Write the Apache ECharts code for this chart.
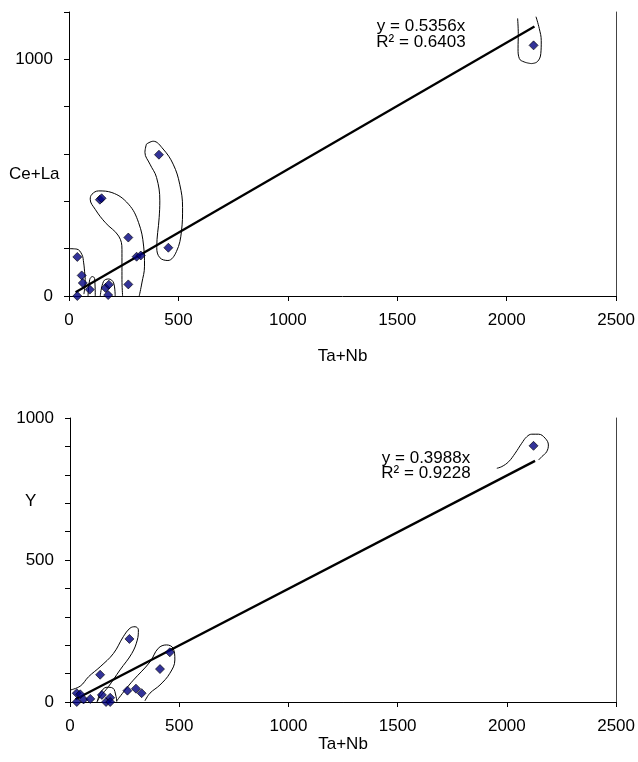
<!DOCTYPE html>
<html>
<head>
<meta charset="utf-8">
<script src="https://cdn.jsdelivr.net/npm/echarts@6/dist/echarts.min.js"></script>
<style>
  html, body { margin: 0; padding: 0; background: #fff; }
  #chart { width: 638px; height: 762px; }
</style>
</head>
<body>
<div id="chart"></div>
<script>
// upper panel: Ce+La against Ta+Nb
const topTaNb = [38, 58, 63, 95, 38, 141, 149, 271, 309, 328, 271, 167, 182, 179, 411, 454, 2123];
const topCeLa = [165, 87, 55, 27, 0, 407, 413, 247, 166, 171, 49, 34, 48, 4, 597, 204, 1059];
const topTrend = [[30, 16], [2127, 1139]];
const topEquation = ["y = 0.5356x", "R\u00b2 = 0.6403"];

// lower panel: Y against Ta+Nb
const bottomTaNb = [31, 47, 31, 62, 93, 138, 146, 272, 165, 184, 184, 263, 302, 328, 412, 457, 2122];
const bottomY = [31, 27, 0, 9, 11, 96, 25, 222, 0, 15, 0, 40, 47, 31, 116, 175, 902];
const bottomTrend = [[25, 10], [2129, 849]];
const bottomEquation = ["y = 0.3988x", "R\u00b2 = 0.9228"];

const xTicks = [0, 500, 1000, 1500, 2000, 2500];
const topYLabels = [0, 1000];
const bottomYLabels = [0, 500, 1000];

// hand drawn group outlines (data units)
const topOutlines = [
  [[0, 200], [36, 198], [59, 175], [67, 140], [71, 105], [74, 70], [72, 35], [68, 8]],
  [[87, 0], [95, 70], [107, 82], [117, 74], [120, 0]],
  [[143, 0], [158, 62], [181, 72], [204, 55], [211, 0]],
  [[245, 0], [242, 69], [242, 197], [227, 253], [166, 310], [120, 366], [97, 409], [105, 430],
   [135, 444], [196, 437], [272, 388], [318, 310], [341, 211], [345, 126], [333, 55], [321, 0]],
  [[354, 642], [385, 654], [430, 621], [476, 557], [506, 472], [519, 374], [514, 274], [491, 188],
   [452, 150], [415, 162], [401, 205], [412, 331], [415, 402], [400, 501], [370, 557], [347, 607], [354, 642]],
  [[2050, 1173], [2053, 1109], [2052, 1045], [2058, 1003], [2080, 989], [2112, 982]],
  [[2112, 982], [2140, 990], [2156, 1024], [2158, 1079], [2149, 1130], [2134, 1180]],
];
const bottomOutlines = [
  [[0, 42], [47, 56], [85, 89], [138, 124], [199, 171], [244, 230], [275, 260], [298, 265],
   [313, 254], [308, 218], [283, 171], [229, 113], [176, 54], [138, 19], [123, 1]],
  [[126, 1], [138, 31], [169, 52], [196, 49], [211, 19], [214, 1]],
  [[214, 4], [252, 42], [290, 77], [366, 141], [404, 189], [442, 201], [472, 189], [480, 148],
   [457, 101], [412, 60], [366, 31], [343, 4]],
  [[1954, 823], [1977, 829], [2008, 846], [2038, 876], [2068, 911], [2091, 934], [2114, 943],
   [2145, 943], [2175, 929], [2190, 905], [2182, 881], [2160, 864], [2145, 852]],
];

const FONT = "Liberation Sans, Arial, sans-serif";
const FONT_SIZE = 17;

function pairs(xs, ys) {
  return xs.map((x, i) => [x, ys[i]]);
}

function xAxisFor(gridIndex, nameGap) {
  return {
    gridIndex,
    type: "value",
    min: 0,
    max: 2500,
    interval: 500,
    name: "Ta+Nb",
    nameLocation: "middle",
    nameGap,
    nameTextStyle: { fontFamily: FONT, fontSize: FONT_SIZE, color: "#000" },
    axisLine: { lineStyle: { color: "#000", width: 1 } },
    axisTick: { inside: false, length: 5, lineStyle: { color: "#000" } },
    axisLabel: {
      margin: 16,
      fontFamily: FONT,
      fontSize: FONT_SIZE,
      color: "#000",
      formatter: (v) => (xTicks.includes(v) ? String(v) : ""),
    },
    splitLine: { show: false },
  };
}

function yAxisFor(gridIndex, max, interval, labels) {
  return {
    gridIndex,
    type: "value",
    min: 0,
    max,
    interval,
    axisLine: { show: true, onZero: false, lineStyle: { color: "#000", width: 1 } },
    axisTick: { show: true, length: 5, lineStyle: { color: "#000" } },
    axisLabel: {
      margin: 16,
      padding: [9, 0, 0, 0],
      fontFamily: FONT,
      fontSize: FONT_SIZE,
      color: "#000",
      showMinLabel: true,
      showMaxLabel: true,
      formatter: (v) => (labels.includes(v) ? String(v) : ""),
    },
    splitLine: { show: false },
  };
}

function rightAxisFor(gridIndex, max) {
  return {
    gridIndex,
    type: "value",
    position: "right",
    min: 0,
    max,
    axisLine: { show: true, onZero: false, lineStyle: { color: "#444", width: 1 } },
    axisTick: { show: false },
    axisLabel: { show: false },
    splitLine: { show: false },
  };
}

function scatterSeries(xIdx, yIdx, data) {
  return {
    type: "scatter",
    xAxisIndex: xIdx,
    yAxisIndex: yIdx,
    data,
    symbol: "diamond",
    symbolSize: 9,
    itemStyle: { color: "#000080", borderColor: "#000", borderWidth: 0.8 },
    z: 5,
  };
}

function trendSeries(xIdx, yIdx, data) {
  return {
    type: "line",
    xAxisIndex: xIdx,
    yAxisIndex: yIdx,
    data,
    showSymbol: false,
    lineStyle: { color: "#000", width: 2.3 },
    z: 4,
  };
}

function outlineSeries(xIdx, yIdx, data) {
  return {
    type: "line",
    xAxisIndex: xIdx,
    yAxisIndex: yIdx,
    data,
    smooth: 0.4,
    showSymbol: false,
    clip: false,
    lineStyle: { color: "#000", width: 1 },
    z: 3,
  };
}

const chart = echarts.init(document.getElementById("chart"));

const series = [
  scatterSeries(0, 0, pairs(topTaNb, topCeLa)),
  trendSeries(0, 0, topTrend),
  scatterSeries(1, 2, pairs(bottomTaNb, bottomY)),
  trendSeries(1, 2, bottomTrend),
];
topOutlines.forEach((o) => series.push(outlineSeries(0, 0, o)));
bottomOutlines.forEach((o) => series.push(outlineSeries(1, 2, o)));

chart.setOption({
  animation: false,
  backgroundColor: "#fff",
  grid: [
    { left: 69, right: 21, top: 12, height: 284 },
    { left: 70, right: 20, top: 418, height: 284 },
  ],
  xAxis: [xAxisFor(0, 52), xAxisFor(1, 34)],
  yAxis: [
    yAxisFor(0, 1200, 200, topYLabels),
    rightAxisFor(0, 1200),
    yAxisFor(1, 1000, 100, bottomYLabels),
    rightAxisFor(1, 1000),
  ],
  graphic: [
    {
      type: "text",
      left: 9,
      top: 166,
      style: { text: "Ce+La", fontFamily: FONT, fontSize: FONT_SIZE, fill: "#000" },
    },
    {
      type: "text",
      left: 25,
      top: 493,
      style: { text: "Y", fontFamily: FONT, fontSize: FONT_SIZE, fill: "#000" },
    },
    {
      type: "text",
      x: 421,
      y: 18,
      style: {
        text: topEquation.join("\n"),
        fontFamily: FONT,
        fontSize: FONT_SIZE,
        lineHeight: 16,
        fill: "#000",
        align: "center",
        verticalAlign: "top",
      },
    },
    {
      type: "text",
      x: 426,
      y: 451,
      style: {
        text: bottomEquation.join("\n"),
        fontFamily: FONT,
        fontSize: FONT_SIZE,
        lineHeight: 15,
        fill: "#000",
        align: "center",
        verticalAlign: "top",
      },
    },
  ],
  series,
});
</script>
</body>
</html>
